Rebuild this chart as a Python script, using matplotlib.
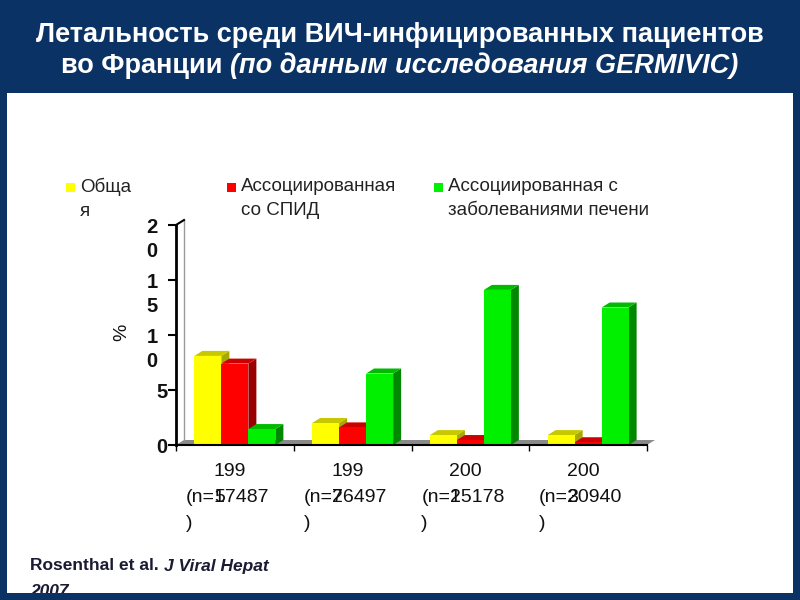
import matplotlib
matplotlib.use("Agg")
import matplotlib.pyplot as plt
from matplotlib.patches import Rectangle, Polygon

# ---- data ----
years = ['1995', '1997', '2001', '2003']
n_patients = [17487, 26497, 25178, 20940]
series_names = ['Обща\nя', 'Ассоциированная\nсо СПИД', 'Ассоциированная с\nзаболеваниями печени']
total = [8.1, 2.0, 0.9, 0.9]
aids = [7.4, 1.6, 0.45, 0.25]
liver = [1.45, 6.5, 14.1, 12.5]
y_ticks = [0, 5, 10, 15, 20]

values = [total, aids, liver]
front_cols = ['#FFFF00', '#FF0000', '#00F000']
top_cols = ['#C8C800', '#CC0000', '#00BB00']
side_cols = ['#A8A800', '#990000', '#008800']

NAVY = '#0b3265'
W, H = 800, 600

fig = plt.figure(figsize=(8, 6), dpi=100)
fig.patch.set_facecolor(NAVY)
fig.patches.append(Rectangle((7 / W, 1 - 593 / H), 786 / W, 500 / H, transform=fig.transFigure,
                             facecolor='white', edgecolor='none', zorder=-1))

# title
title_font = dict(family='Liberation Sans', weight='bold', size=19.5, color='white')
fig.text(0.5, 1 - 35 / H, 'Летальность среди ВИЧ-инфицированных пациентов', ha='center', va='center', **title_font)
t_a = fig.text(0, 1 - 66 / H, 'во Франции ', ha='left', va='center', **title_font)
t_b = fig.text(0, 1 - 66 / H, '(по данным исследования GERMIVIC)', ha='left', va='center', style='italic', **title_font)
fig.canvas.draw()
r = fig.canvas.get_renderer()
wa = t_a.get_window_extent(r).width
wb = t_b.get_window_extent(r).width
x0 = (W - wa - wb) / 2
t_a.set_x(x0 / W)
t_b.set_x((x0 + wa) / W)

# axes: x axis from px 176 to 647, zero at y=445, 20 at y=225
ax = fig.add_axes([176 / W, 1 - 445 / H, 471 / W, 220 / H])
ax.set_xlim(0, 4)
ax.set_ylim(0, 20)
ax.patch.set_alpha(0)
for s in ['top', 'right']:
    ax.spines[s].set_visible(False)
ax.spines['left'].set_linewidth(2)
ax.spines['bottom'].set_linewidth(1.5)
ax.spines['left'].set_zorder(6)
ax.spines['bottom'].set_zorder(6)
ax.set_yticks(y_ticks)
ax.set_yticklabels([])
ax.set_xticks(range(5))
ax.set_xticklabels([])
ax.tick_params(axis='y', direction='out', length=6, width=1.5)
ax.tick_params(axis='x', direction='out', length=4, width=1)

px_x = 471 / 4.0
px_y = 220 / 20.0
DX = 8 / px_x
DY = 5 / px_y
BW = 27 / px_x

# floor and back wall
ax.add_patch(Polygon([(0, 0), (4, 0), (4 + DX, DY), (DX, DY)], closed=True,
                     facecolor='#8a8a8a', edgecolor='none', zorder=1, clip_on=False))
ax.plot([DX, DX], [DY, 20 + DY], color='#999999', lw=1, zorder=1, clip_on=False)
ax.plot([0, DX], [20, 20 + DY], color='black', lw=1.5, zorder=6, clip_on=False)

# 3D bars
for i in range(len(years)):
    for j, vals in enumerate(values):
        v = vals[i]
        xl = i + 0.5 + (j - 1.5) * BW
        xr = xl + BW
        z = 2 + j
        ax.add_patch(Polygon([(xr, 0), (xr + DX, DY), (xr + DX, v + DY), (xr, v)], closed=True,
                             facecolor=side_cols[j], edgecolor='none', zorder=z, clip_on=False))
        ax.add_patch(Polygon([(xl, v), (xr, v), (xr + DX, v + DY), (xl + DX, v + DY)], closed=True,
                             facecolor=top_cols[j], edgecolor='none', zorder=z, clip_on=False))
        ax.add_patch(Rectangle((xl, 0), BW, v, facecolor=front_cols[j], edgecolor='none',
                               zorder=z, clip_on=False))

# y tick labels (wrapped like the original)
for t in y_ticks:
    lab = str(t)
    dx = -24 if len(lab) > 1 else -14
    ax.annotate('\n'.join(lab), xy=(0, t), xycoords=('axes fraction', 'data'),
                xytext=(dx, 7), textcoords='offset pixels', ha='center', va='top',
                fontsize=14.5, fontweight='bold', color='#111111', linespacing=1.35,
                family='Liberation Sans', annotation_clip=False)

ax.annotate('%', xy=(0, 0.5), xycoords='axes fraction', xytext=(-54, 3), textcoords='offset pixels',
            rotation=90, ha='center', va='center', fontsize=14, color='#111111', family='Liberation Sans')

# x labels
lab_font = dict(fontsize=14, color='#111111', family='Liberation Sans', annotation_clip=False)
for i, (yr, n) in enumerate(zip(years, n_patients)):
    cx = i + 0.5
    ax.annotate(yr[:3], xy=(cx, 0), xycoords=('data', 'axes fraction'), xytext=(-5, -26),
                textcoords='offset pixels', ha='center', va='center', **lab_font)
    ax.annotate('(n=%d' % n, xy=(cx, 0), xycoords=('data', 'axes fraction'), xytext=(-49, -52),
                textcoords='offset pixels', ha='left', va='center', **lab_font)
    ax.annotate(yr[3], xy=(cx, 0), xycoords=('data', 'axes fraction'), xytext=(-15, -52),
                textcoords='offset pixels', ha='center', va='center', **lab_font)
    ax.annotate(')', xy=(cx, 0), xycoords=('data', 'axes fraction'), xytext=(-49, -78),
                textcoords='offset pixels', ha='left', va='center', **lab_font)

# legend
leg_x = [66, 227, 434]
for name, col, lx in zip(series_names, front_cols, leg_x):
    fig.patches.append(Rectangle((lx / W, 1 - 192 / H), 9 / W, 9 / H, transform=fig.transFigure,
                                 facecolor=col, edgecolor='none', zorder=2))
    fig.text((lx + 14) / W, 1 - 178 / H, name, ha='left', va='top', fontsize=13.5,
             color='#222222', family='Liberation Sans', linespacing=1.55)

# citation
cite_font = dict(family='Liberation Sans', weight='bold', size=12.5, color='#1a1a33')
c_a = fig.text(30 / W, 1 - 566 / H, 'Rosenthal et al. ', ha='left', va='center', **cite_font)
fig.canvas.draw()
wc = c_a.get_window_extent(fig.canvas.get_renderer()).width
fig.text((30 + wc) / W, 1 - 566 / H, 'J Viral Hepat', ha='left', va='center', style='italic', **cite_font)
fig.text(30 / W, 1 - 591 / H, '2007.', ha='left', va='center', style='italic', zorder=3, **cite_font)

# bottom border drawn over the citation, as in the slide
fig.patches.append(Rectangle((0, 0), 1, 7 / H, transform=fig.transFigure,
                             facecolor=NAVY, edgecolor='none', zorder=10))

fig.savefig('out.png', dpi=100, facecolor=NAVY)
